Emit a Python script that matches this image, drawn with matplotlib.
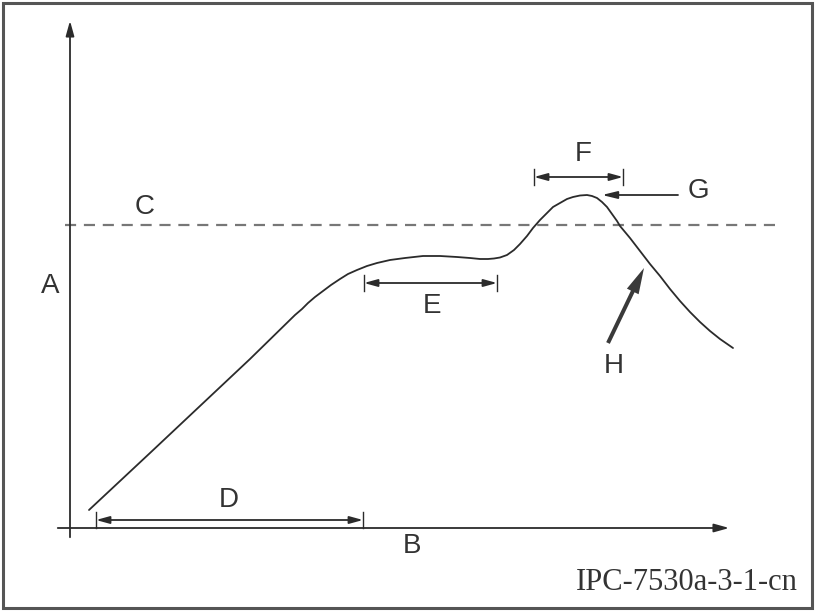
import matplotlib.pyplot as plt
from matplotlib.patches import Rectangle, FancyArrow

# Reflow profile curve (pixel coords, y down)
curve_x = [89, 150, 200, 250, 295, 302, 308, 315, 323, 331, 340, 348, 357, 367,
           377, 390, 405, 423, 440, 457, 470, 480, 488, 494, 500, 507, 514,
           520, 527, 533, 540, 547, 553, 560, 567, 573, 580, 587, 592, 597,
           602, 607, 612, 617, 620, 630, 640, 650, 660, 670, 680, 690, 700,
           710, 720, 733]
curve_y = [510, 453, 406, 359, 315, 309, 303, 297, 291, 285, 279, 274, 270, 266,
           263, 260, 258, 256, 256, 257, 258, 259, 259, 258.5, 257.5, 255, 250,
           244, 236, 228, 220, 213, 207, 203, 199, 197, 195.5, 195, 196, 198,
           202, 207, 214, 221, 226, 238, 251, 264, 276, 289, 301, 312, 322,
           331, 339, 348]

threshold_y = 225          # dashed line C
axis_origin = (70, 528)

labels = ['A', 'B', 'C', 'D', 'E', 'F', 'G', 'H']
label_x = [50, 412, 145, 229, 432, 583, 698, 614]
label_y = [286, 546, 207, 500, 306, 154, 191, 366]

# dimension arrows: (x0, x1, y)
spans = {'D': (96, 363, 520), 'E': (364, 497, 283), 'F': (534, 623, 177)}

ink = '#2b2b2b'

fig = plt.figure(figsize=(8.19, 6.16), dpi=100)
ax = fig.add_axes([0, 0, 1, 1])
ax.set_xlim(0, 819)
ax.set_ylim(616, 0)
ax.axis('off')

# frame
ax.add_patch(Rectangle((3, 3), 809, 605, fill=False, ec='#555555', lw=2.2))

# axes
ox, oy = axis_origin
ax.annotate('', xy=(ox, 18), xytext=(ox, 540),
            arrowprops=dict(arrowstyle='-|>,head_length=0.9,head_width=0.25', color=ink, lw=1.3))
ax.annotate('', xy=(732, oy), xytext=(55, oy),
            arrowprops=dict(arrowstyle='-|>,head_length=0.9,head_width=0.25', color=ink, lw=1.3))

# dashed threshold line
ax.plot([65, 776], [threshold_y, threshold_y], color='#777777', lw=1.6, ls=(0, (5, 3.5)))

# profile
ax.plot(curve_x, curve_y, color=ink, lw=1.3, solid_joinstyle='round', solid_capstyle='round')

# dimension spans
for x0, x1, y in spans.values():
    ax.annotate('', xy=(x0, y), xytext=(x1, y),
                arrowprops=dict(arrowstyle='<|-|>,head_length=0.8,head_width=0.22',
                                color=ink, lw=1.3, shrinkA=0, shrinkB=0))
    ax.plot([x0, x0], [y - 8, y + 8], color=ink, lw=1.0)
    ax.plot([x1, x1], [y - 8, y + 8], color=ink, lw=1.0)

# G pointer
ax.annotate('', xy=(602, 195), xytext=(678, 195),
            arrowprops=dict(arrowstyle='-|>,head_length=0.9,head_width=0.22',
                            color=ink, lw=1.3, shrinkA=0, shrinkB=0))

# H pointer (thick wedge arrow)
ax.add_patch(FancyArrow(608, 343, 36, -75, width=4, head_width=13, head_length=26,
                        length_includes_head=True, color='#3a3a3a', lw=0))

for t, x, y in zip(labels, label_x, label_y):
    ax.text(x, y, t, fontsize=20, family='Liberation Sans', color='#333333',
            ha='center', va='center')

ax.text(798, 590, 'IPC-7530a-3-1-cn', fontsize=22, family='Liberation Serif',
        color='#333333', ha='right', va='baseline')

fig.savefig('out.png', dpi=100)
